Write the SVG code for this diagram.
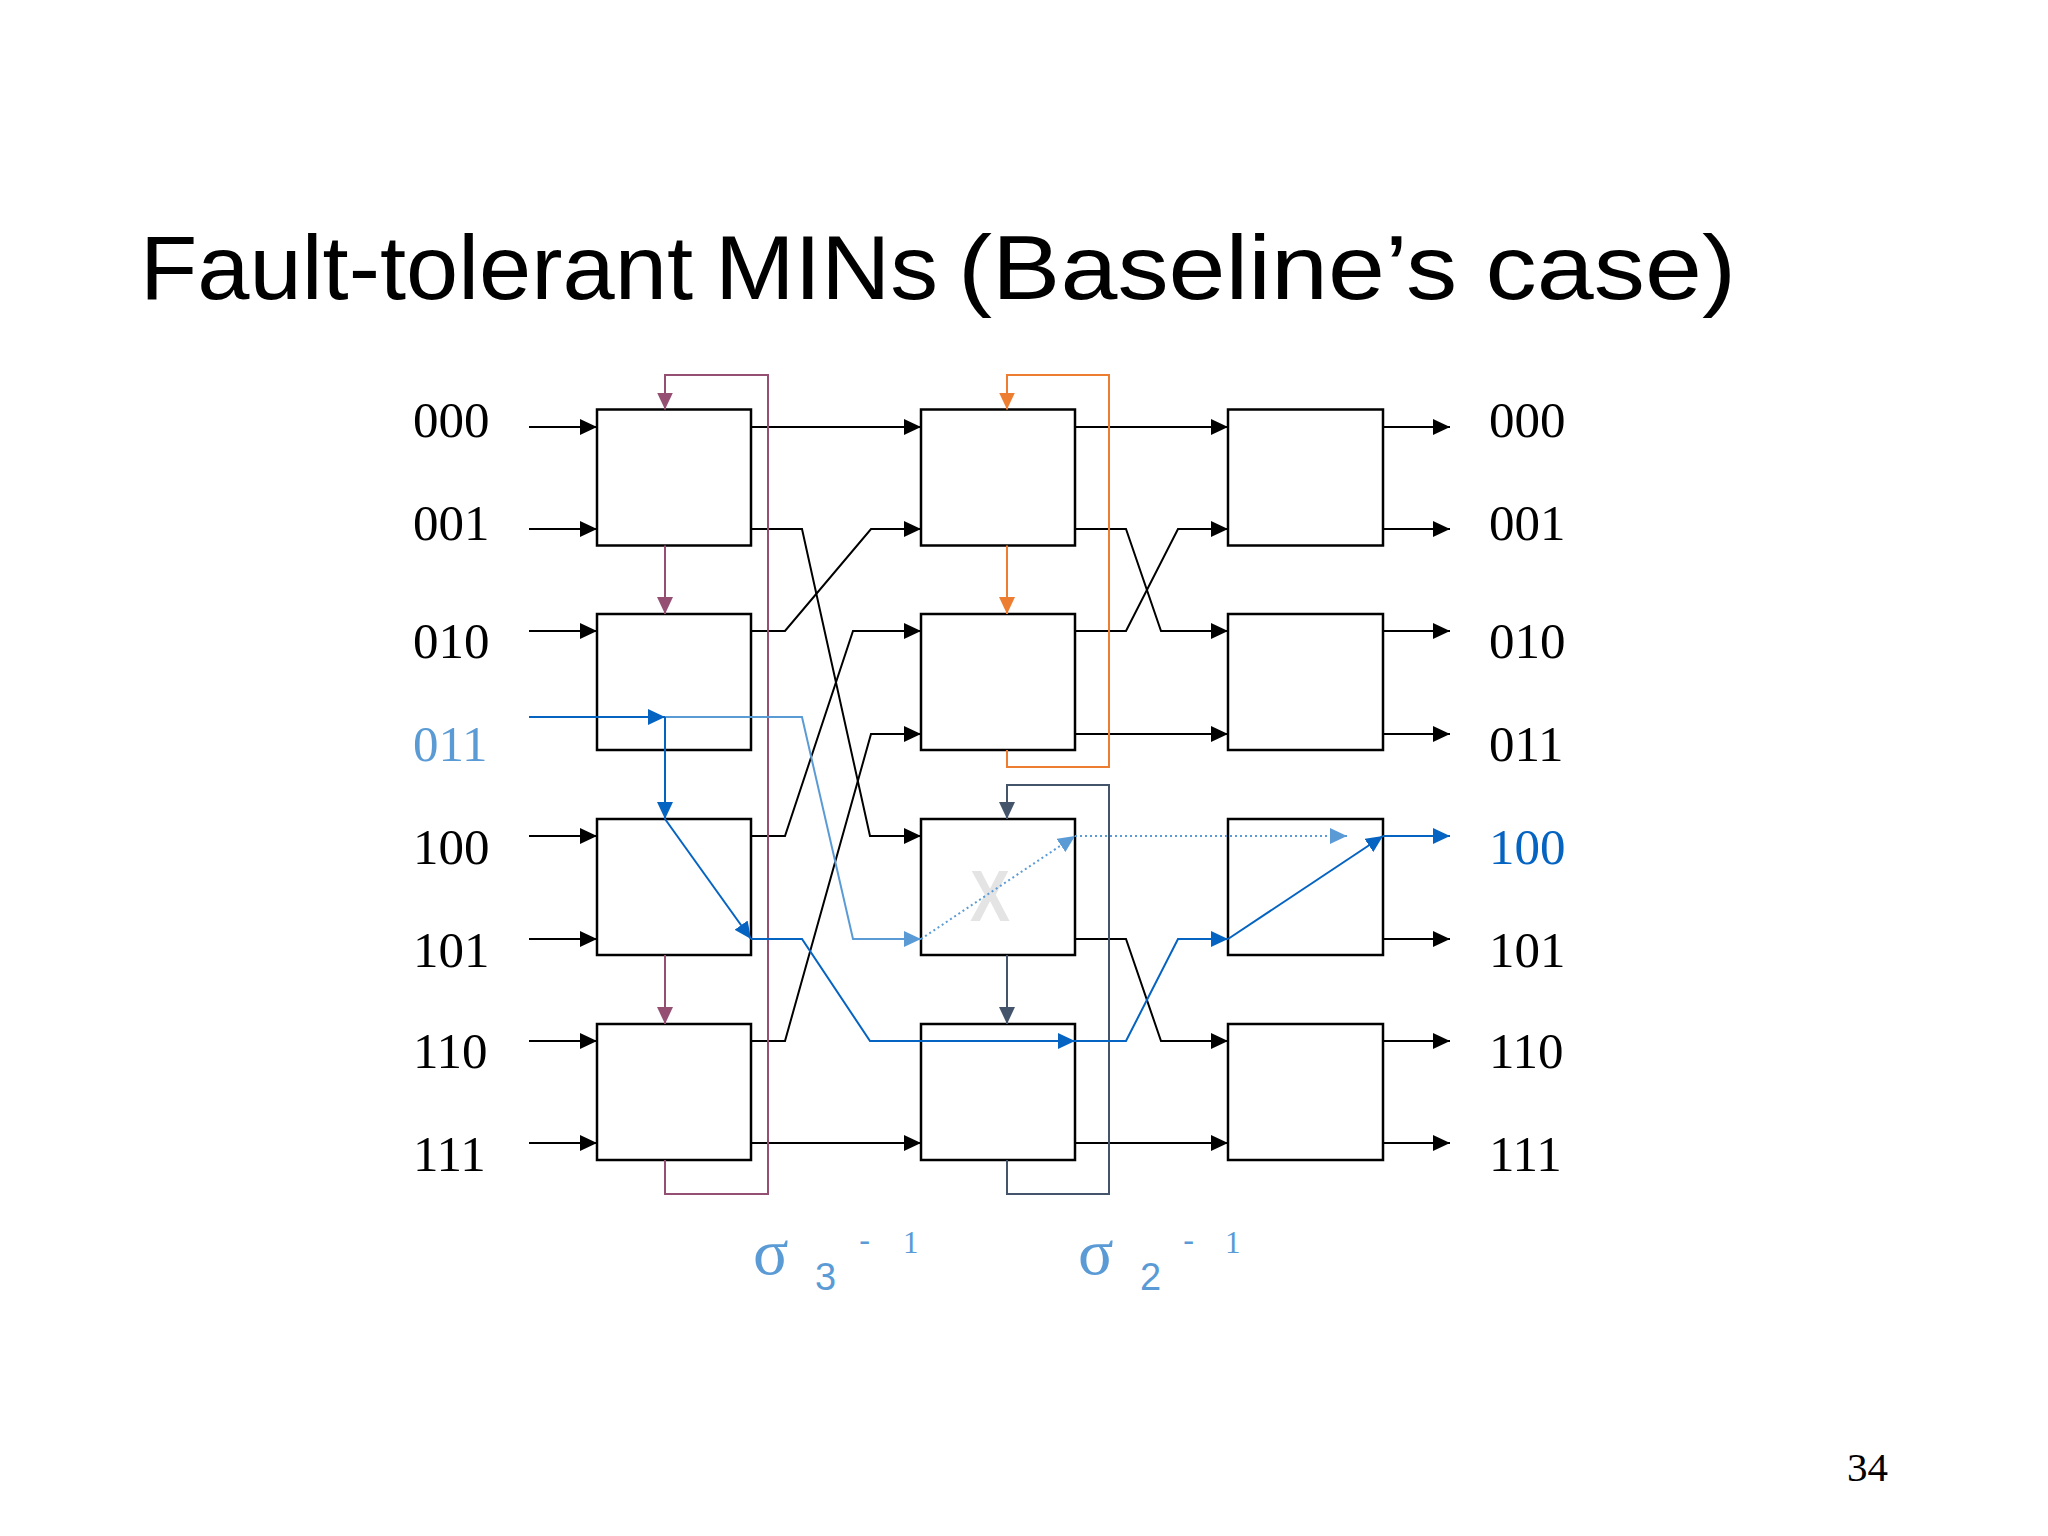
<svg xmlns="http://www.w3.org/2000/svg" width="2048" height="1536" viewBox="0 0 2048 1536">
<defs>
<style>
.box{fill:#fff;stroke:#000;stroke-width:2.5}
.w{fill:none;stroke:#000;stroke-width:2}
.db{fill:none;stroke:#0563C1;stroke-width:2}
.lb{fill:none;stroke:#5B9BD5;stroke-width:2}
.dot{fill:none;stroke:#5B9BD5;stroke-width:2;stroke-dasharray:2 3}
.mg{fill:none;stroke:#954F72;stroke-width:2}
.or{fill:none;stroke:#ED7D31;stroke-width:2}
.sl{fill:none;stroke:#44546A;stroke-width:2}
.lbl{font-family:"Liberation Serif","Times New Roman",serif;font-size:51px;fill:#000}
.sig{fill:#5B9BD5}
</style>
<marker id="ak" markerUnits="userSpaceOnUse" markerWidth="17" markerHeight="16" refX="17" refY="8" orient="auto"><path d="M0,0 L17,8 L0,16 z" fill="#000"/></marker>
<marker id="adb" markerUnits="userSpaceOnUse" markerWidth="17" markerHeight="16" refX="17" refY="8" orient="auto"><path d="M0,0 L17,8 L0,16 z" fill="#0563C1"/></marker>
<marker id="alb" markerUnits="userSpaceOnUse" markerWidth="17" markerHeight="16" refX="17" refY="8" orient="auto"><path d="M0,0 L17,8 L0,16 z" fill="#5B9BD5"/></marker>
<marker id="amg" markerUnits="userSpaceOnUse" markerWidth="17" markerHeight="16" refX="17" refY="8" orient="auto"><path d="M0,0 L17,8 L0,16 z" fill="#954F72"/></marker>
<marker id="aor" markerUnits="userSpaceOnUse" markerWidth="17" markerHeight="16" refX="17" refY="8" orient="auto"><path d="M0,0 L17,8 L0,16 z" fill="#ED7D31"/></marker>
<marker id="asl" markerUnits="userSpaceOnUse" markerWidth="17" markerHeight="16" refX="17" refY="8" orient="auto"><path d="M0,0 L17,8 L0,16 z" fill="#44546A"/></marker>
</defs>
<rect width="2048" height="1536" fill="#fff"/>
<text y="299" font-family="'Liberation Sans',Arial,sans-serif" font-size="91" fill="#000"><tspan x="140" textLength="553" lengthAdjust="spacingAndGlyphs">Fault-tolerant</tspan> <tspan x="715" textLength="223" lengthAdjust="spacingAndGlyphs">MINs</tspan> <tspan x="958" textLength="778" lengthAdjust="spacingAndGlyphs">(Baseline’s case)</tspan></text>

<g id="s1b0"><rect class="box" x="597" y="409.5" width="154" height="136"/></g>
<g id="s1b1"><rect class="box" x="597" y="614" width="154" height="136"/></g>
<g id="s1b2"><rect class="box" x="597" y="819" width="154" height="136"/></g>
<g id="s1b3"><rect class="box" x="597" y="1024" width="154" height="136"/></g>
<g id="s2b0"><rect class="box" x="921" y="409.5" width="154" height="136"/></g>
<g id="s2b1"><rect class="box" x="921" y="614" width="154" height="136"/></g>
<g id="s2b2"><rect class="box" x="921" y="819" width="154" height="136"/><text x="990" y="921" text-anchor="middle" font-family="'Liberation Sans',Arial,sans-serif" font-size="72" font-weight="bold" textLength="40" lengthAdjust="spacingAndGlyphs" fill="#E4E4E4">X</text></g>
<g id="s2b3"><rect class="box" x="921" y="1024" width="154" height="136"/></g>
<g id="s3b0"><rect class="box" x="1228" y="409.5" width="155" height="136"/></g>
<g id="s3b1"><rect class="box" x="1228" y="614" width="155" height="136"/></g>
<g id="s3b2"><rect class="box" x="1228" y="819" width="155" height="136"/></g>
<g id="s3b3"><rect class="box" x="1228" y="1024" width="155" height="136"/></g>

<g id="connectors">
<path class="w" marker-end="url(#ak)" d="M529,427 H597"/>
<path class="w" marker-end="url(#ak)" d="M529,529 H597"/>
<path class="w" marker-end="url(#ak)" d="M529,631 H597"/>
<path class="w" marker-end="url(#ak)" d="M529,836 H597"/>
<path class="w" marker-end="url(#ak)" d="M529,939 H597"/>
<path class="w" marker-end="url(#ak)" d="M529,1041 H597"/>
<path class="w" marker-end="url(#ak)" d="M529,1143 H597"/>
<path class="w" marker-end="url(#ak)" d="M751,427 H921"/>
<path class="w" marker-end="url(#ak)" d="M751,631 H785 L871,529 H921"/>
<path class="w" marker-end="url(#ak)" d="M751,836 H785 L853,631 H921"/>
<path class="w" marker-end="url(#ak)" d="M751,1041 H785 L871,734 H921"/>
<path class="w" marker-end="url(#ak)" d="M751,529 H802 L870,836 H921"/>
<path class="w" marker-end="url(#ak)" d="M751,1143 H921"/>
<path class="w" marker-end="url(#ak)" d="M1075,427 H1228"/>
<path class="w" marker-end="url(#ak)" d="M1075,631 H1126 L1178,529 H1228"/>
<path class="w" marker-end="url(#ak)" d="M1075,529 H1126 L1161,631 H1228"/>
<path class="w" marker-end="url(#ak)" d="M1075,734 H1228"/>
<path class="w" marker-end="url(#ak)" d="M1075,939 H1126 L1161,1041 H1228"/>
<path class="w" marker-end="url(#ak)" d="M1075,1143 H1228"/>
<path class="w" marker-end="url(#ak)" d="M1383,427 H1450"/>
<path class="w" marker-end="url(#ak)" d="M1383,529 H1450"/>
<path class="w" marker-end="url(#ak)" d="M1383,631 H1450"/>
<path class="w" marker-end="url(#ak)" d="M1383,734 H1450"/>
<path class="w" marker-end="url(#ak)" d="M1383,939 H1450"/>
<path class="w" marker-end="url(#ak)" d="M1383,1041 H1450"/>
<path class="w" marker-end="url(#ak)" d="M1383,1143 H1450"/>
<path class="mg" marker-end="url(#amg)" d="M665,1160 V1194 H768 V375 H665 V409.5"/>
<path class="mg" marker-end="url(#amg)" d="M665,545.5 V614"/>
<path class="mg" marker-end="url(#amg)" d="M665,955 V1024"/>
<path class="or" marker-end="url(#aor)" d="M1007,750 V767 H1109 V375 H1007 V409.5"/>
<path class="or" marker-end="url(#aor)" d="M1007,545.5 V614"/>
<path class="sl" marker-end="url(#asl)" d="M1007,1160 V1194 H1109 V785 H1007 V819"/>
<path class="sl" marker-end="url(#asl)" d="M1007,955 V1024"/>
<path class="lb" marker-end="url(#alb)" d="M665,717 H802 L853,939 H921"/>
<path class="dot" marker-end="url(#alb)" d="M921,939 L1075,836"/>
<path class="dot" marker-end="url(#alb)" d="M1075,836 H1347"/>
<path class="db" marker-end="url(#adb)" d="M529,717 H665"/>
<path class="db" marker-end="url(#adb)" d="M665,717 V819"/>
<path class="db" marker-end="url(#adb)" d="M665,819 L751,939"/>
<path class="db" marker-end="url(#adb)" d="M751,939 H802 L870,1041 H1075"/>
<path class="db" marker-end="url(#adb)" d="M1075,1041 H1126 L1178,939 H1228"/>
<path class="db" marker-end="url(#adb)" d="M1228,939 L1383,836"/>
<path class="db" marker-end="url(#adb)" d="M1383,836 H1450"/>
</g>

<g id="labels-in">
<text class="lbl" x="413" y="437">000</text>
<text class="lbl" x="413" y="540">001</text>
<text class="lbl" x="413" y="658">010</text>
<text class="lbl" x="413" y="761" style="fill:#5B9BD5">011</text>
<text class="lbl" x="413" y="864">100</text>
<text class="lbl" x="413" y="967">101</text>
<text class="lbl" x="413" y="1068">110</text>
<text class="lbl" x="413" y="1171">111</text>
</g>
<g id="labels-out">
<text class="lbl" x="1489" y="437">000</text>
<text class="lbl" x="1489" y="540">001</text>
<text class="lbl" x="1489" y="658">010</text>
<text class="lbl" x="1489" y="761">011</text>
<text class="lbl" x="1489" y="864" style="fill:#0563C1">100</text>
<text class="lbl" x="1489" y="967">101</text>
<text class="lbl" x="1489" y="1068">110</text>
<text class="lbl" x="1489" y="1171">111</text>
</g>
<g id="sigma3">
<text class="sig" x="753" y="1274" font-family="'Liberation Serif','Times New Roman',serif" font-size="66">σ</text>
<text class="sig" x="815" y="1290" font-family="'Liberation Sans',Arial,sans-serif" font-size="38">3</text>
<text class="sig" x="859" y="1252" font-family="'Liberation Sans',Arial,sans-serif" font-size="34">-</text>
<text class="sig" x="903" y="1253" font-family="'Liberation Serif','Times New Roman',serif" font-size="31">1</text>
</g>
<g id="sigma2">
<text class="sig" x="1078" y="1274" font-family="'Liberation Serif','Times New Roman',serif" font-size="66">σ</text>
<text class="sig" x="1140" y="1290" font-family="'Liberation Sans',Arial,sans-serif" font-size="38">2</text>
<text class="sig" x="1183" y="1252" font-family="'Liberation Sans',Arial,sans-serif" font-size="34">-</text>
<text class="sig" x="1225" y="1253" font-family="'Liberation Serif','Times New Roman',serif" font-size="31">1</text>
</g>
<text x="1847" y="1481" font-family="'Liberation Serif','Times New Roman',serif" font-size="41" fill="#000">34</text>
</svg>
